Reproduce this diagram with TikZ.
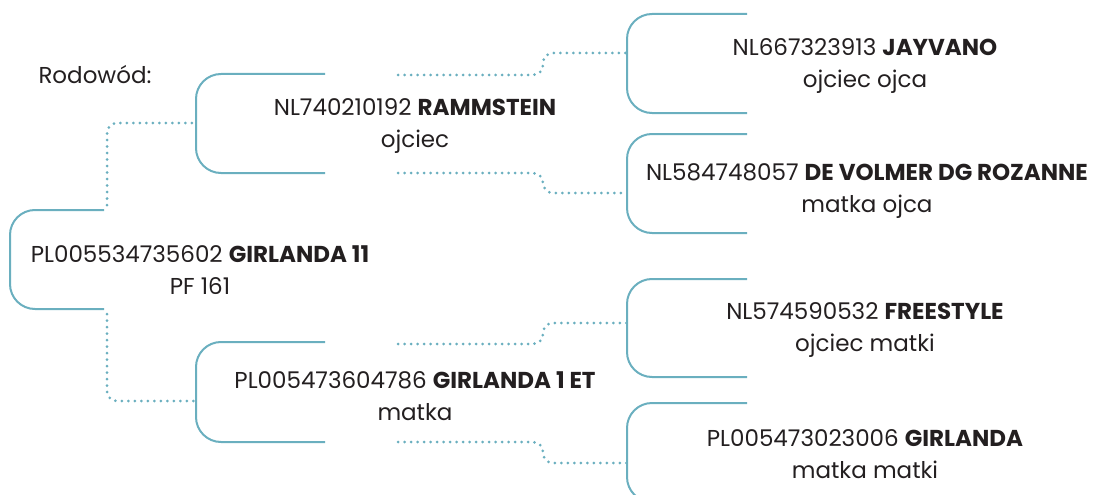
\documentclass[tikz,border=0pt]{standalone}
\usepackage{fontspec}
\setmainfont{Poppins}
\definecolor{lineteal}{HTML}{6AAFBF}
\definecolor{ink}{HTML}{231F20}
\begin{document}
\begin{tikzpicture}[x=1pt, y=-1pt,
    every node/.style={align=center, text=ink, inner sep=0pt, font=\fontsize{23}{32}\selectfont},
    bracket/.style={lineteal, line width=2pt, rounded corners=25pt},
    link/.style={lineteal, line width=3pt, line cap=round, dash pattern=on 0pt off 6.5pt, rounded corners=10pt}]
    \useasboundingbox (0,0) rectangle (1098,495);
    \node (title) at (95,75) {Rodowód:};
    % horses
    \node (P) at (200,270) {PL005534735602 \textbf{GIRLANDA 11}\\PF 161};
    \node (F) at (415,126) {NL740210192 \textbf{RAMMSTEIN}\\ojciec};
    \node (M) at (415,396) {PL005473604786 \textbf{GIRLANDA 1 ET}\\matka};
    \node (FF) at (865,66) {NL667323913 \textbf{JAYVANO}\\ojciec ojca};
    \node (FM) at (867,191) {NL584748057 \textbf{DE VOLMER DG ROZANNE}\\matka ojca};
    \node (MF) at (865,330) {NL574590532 \textbf{FREESTYLE}\\ojciec matki};
    \node (MM) at (865,454) {PL005473023006 \textbf{GIRLANDA}\\matka matki};
    % bracket ends
    \coordinate (Pt) at (104,210);  \coordinate (Pb) at (104,309);
    \coordinate (Ft) at (325,74);   \coordinate (Fb) at (325,173);
    \coordinate (Mt) at (325,342);  \coordinate (Mb) at (325,442);
    \coordinate (FFt) at (747,14);  \coordinate (FFb) at (747,113);
    \coordinate (FMt) at (747,134); \coordinate (FMb) at (747,233);
    \coordinate (MFt) at (747,279); \coordinate (MFb) at (747,377);
    \coordinate (MMt) at (747,403); \coordinate (MMb) at (747,502);
    \draw[bracket] (Pt) -- ++(-94,0) |- (Pb);
    \draw[bracket] (Ft) -- ++(-129,0) |- (Fb);
    \draw[bracket] (Mt) -- ++(-129,0) |- (Mb);
    \draw[bracket] (FFt) -- ++(-120,0) |- (FFb);
    \draw[bracket] (FMt) -- ++(-120,0) |- (FMb);
    \draw[bracket] (MFt) -- ++(-120,0) |- (MFb);
    \draw[bracket] (MMt) -- ++(-120,0) |- (MMb);
    % entry points
    \coordinate (Fin) at (196,123);  \coordinate (Min) at (196,401);
    \coordinate (FFin) at (627,53);  \coordinate (FMin) at (627,193);
    \coordinate (MFin) at (627,323); \coordinate (MMin) at (627,463);
    % dotted links
    \draw[link] (107,205) |- (Fin);
    \draw[link] (107,314) |- (Min);
    \coordinate (Fu) at (398,75);  \coordinate (Fd) at (398,173);
    \coordinate (Mu) at (398,344); \coordinate (Md) at (398,442);
    \draw[link] (Fu) -- ++(145,0) |- (FFin);
    \draw[link] (Fd) -- ++(145,0) |- (FMin);
    \draw[link] (Mu) -- ++(145,0) |- (MFin);
    \draw[link] (Md) -- ++(145,0) |- (MMin);
\end{tikzpicture}
\end{document}
